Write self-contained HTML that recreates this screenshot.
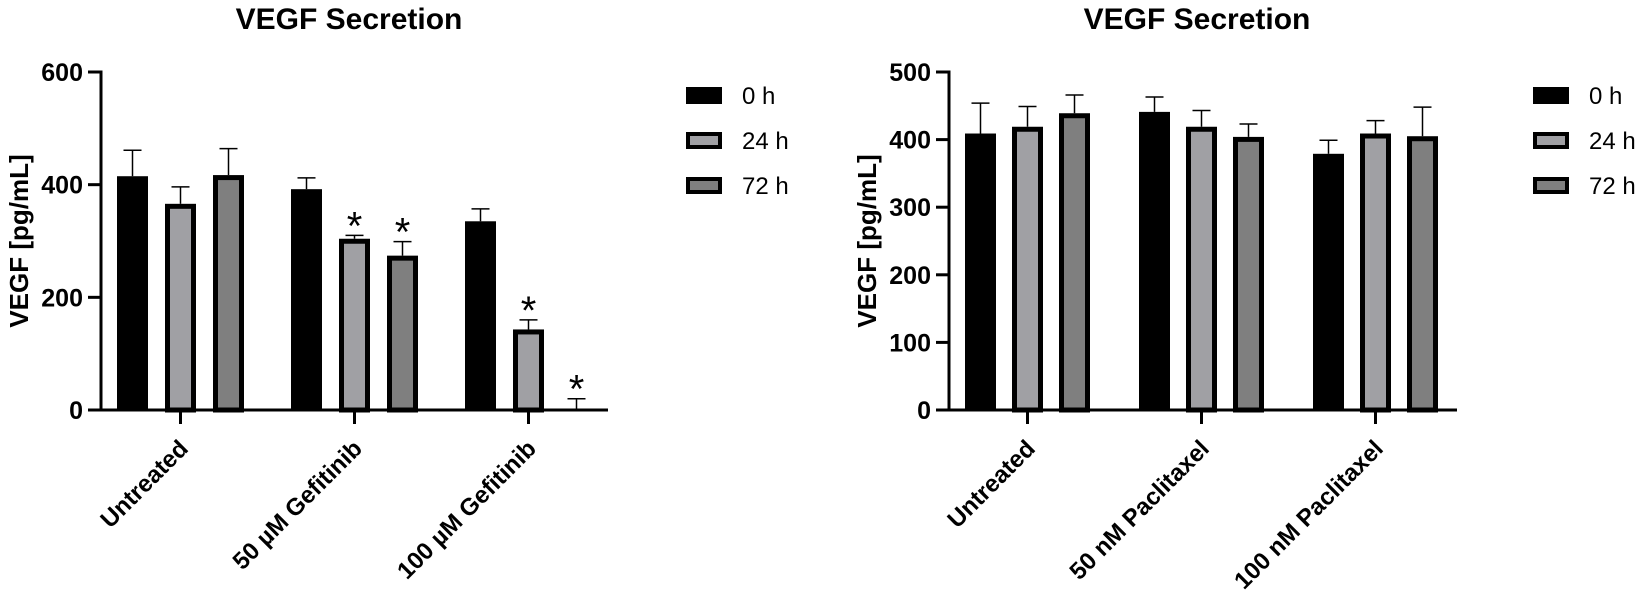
<!DOCTYPE html>
<html><head><meta charset="utf-8"><style>
body{margin:0;background:#fff}
svg{display:block;font-family:"Liberation Sans",Arial,sans-serif}
</style></head><body>
<svg id="chart" width="1649" height="601" viewBox="0 0 1649 601"></svg>
<script>
const seriesNames=["0 h","24 h","72 h"];
const leftCats=["Untreated","50 µM Gefitinib","100 µM Gefitinib"];
const left0h=[415,392,335];
const left24h=[366,304,143];
const left72h=[417,274,2];
const left0hErr=[461,412,357];
const left24hErr=[396,310,160];
const left72hErr=[464,299,20];
const leftStars=[[false,false,false],[false,true,true],[false,true,true]];
const leftTicks=[0,200,400,600];
const rightCats=["Untreated","50 nM Paclitaxel","100 nM Paclitaxel"];
const right0h=[409,441,379];
const right24h=[419,419,409];
const right72h=[439,404,405];
const right0hErr=[454,463,399];
const right24hErr=[449,443,428];
const right72hErr=[466,423,448];
const rightTicks=[0,100,200,300,400,500];

const NS="http://www.w3.org/2000/svg";
const svg=document.getElementById('chart');
function mk(tag,attrs,parent){const e=document.createElementNS(NS,tag);for(const k in attrs)e.setAttribute(k,attrs[k]);(parent||svg).appendChild(e);return e;}
const fills=["#000","#a0a0a4","#7f7f7f"];

function drawPanel(o){
  const g=mk('g',{});
  
  
  const y=v=>o.y0-(v/o.ymax)*(o.y0-o.ytop);
  const t=mk('text',{x:o.ax+248,y:29,'text-anchor':'middle','font-size':30,'font-weight':'bold'},g);
  t.textContent='VEGF Secretion';
  
  
  const yt=mk('text',{transform:`translate(${o.ax-73},${(o.y0+o.ytop)/2}) rotate(-90)`,'text-anchor':'middle','font-size':26,'font-weight':'bold'},g);
  yt.textContent='VEGF [pg/mL]';
  
  
  mk('line',{x1:o.ax,y1:o.ytop-1.5,x2:o.ax,y2:o.y0+1.5,stroke:'#000','stroke-width':3},g);
  mk('line',{x1:o.ax,y1:o.y0,x2:o.axEnd,y2:o.y0,stroke:'#000','stroke-width':3},g);
  o.ticks.forEach(v=>{
    mk('line',{x1:o.ax-13,y1:y(v),x2:o.ax,y2:y(v),stroke:'#000','stroke-width':3},g);
    const tx=mk('text',{x:o.ax-18,y:y(v)+9,'text-anchor':'end','font-size':25,'font-weight':'bold'},g);
    tx.textContent=v;
    
    
  });
  const series=[o.s0,o.s1,o.s2], errs=[o.e0,o.e1,o.e2];
  const bw=31;
  o.cats.forEach((c,i)=>{
    const gx=o.first+i*o.gstep;
    series.forEach((s,j)=>{
      const bx=gx+j*o.bstep;
      const top=y(s[i]);
      const ex=bx+bw/2;
      const el=mk('line',{x1:ex,y1:y(errs[j][i]),x2:ex,y2:top,stroke:'#000','stroke-width':1.5},g);
      
      
      mk('line',{x1:ex-9,y1:y(errs[j][i]),x2:ex+9,y2:y(errs[j][i]),stroke:'#000','stroke-width':1.5},g);
      if(j===0){
        const r=mk('rect',{x:bx,y:top,width:bw,height:o.y0-top,fill:'#000'},g);
        
        
      }else{
        const r=mk('rect',{x:bx+2.5,y:top+2.5,width:bw-5,height:Math.max(0,o.y0-top-2.5),fill:fills[j],stroke:'#000','stroke-width':5},g);
        
        
      }
      if(o.stars && o.stars[i][j]){
        const st=mk('text',{x:ex,y:y(errs[j][i])+4,'text-anchor':'middle','font-size':40},g);
        st.textContent='*';
        
        
      }
    });
    const cx=gx+o.bstep+bw/2;
    mk('line',{x1:cx,y1:o.y0,x2:cx,y2:o.y0+14,stroke:'#000','stroke-width':3},g);
    const xl=mk('text',{transform:`translate(${cx+9},${o.y0+40}) rotate(-45)`,'text-anchor':'end','font-size':24,'font-weight':'bold'},g);
    xl.textContent=c;
    
    
  });
  seriesNames.forEach((n,j)=>{
    const ly=87+j*45;
    const lg=mk('g',{},g);
    
    
    if(j===0) mk('rect',{x:o.legX,y:ly,width:36,height:17,fill:'#000'},lg);
    else mk('rect',{x:o.legX+2,y:ly+2,width:32,height:13,fill:fills[j],stroke:'#000','stroke-width':4},lg);
    const lt=mk('text',{x:o.legX+56,y:ly+17,'font-size':24},lg);
    lt.textContent=n;
  });
}
drawPanel({name:'left-chart',ax:101,axEnd:608,y0:410,ytop:72,ymax:600,ticks:leftTicks,cats:leftCats,
  s0:left0h,s1:left24h,s2:left72h,e0:left0hErr,e1:left24hErr,e2:left72hErr,stars:leftStars,
  first:117,gstep:174,bstep:48,legX:686});
drawPanel({name:'right-chart',ax:949,axEnd:1457,y0:410,ytop:72,ymax:500,ticks:rightTicks,cats:rightCats,
  s0:right0h,s1:right24h,s2:right72h,e0:right0hErr,e1:right24hErr,e2:right72hErr,stars:null,
  first:965,gstep:174,bstep:47,legX:1533});
</script>
</body></html>
